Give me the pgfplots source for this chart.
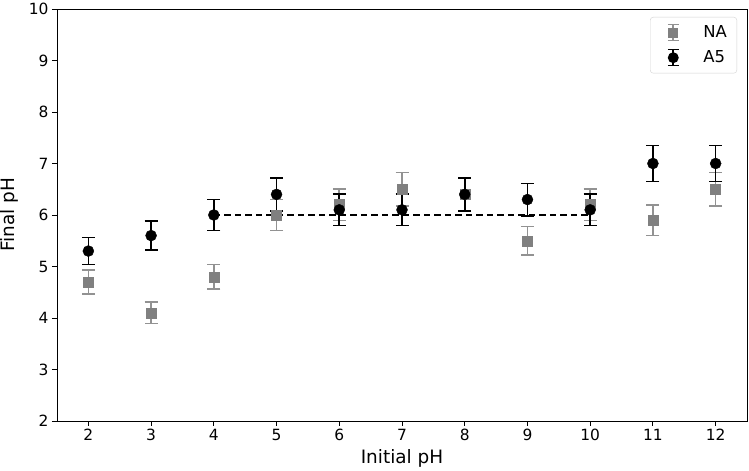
\documentclass[border=0pt]{standalone}
\usepackage{pgfplots}
\pgfplotsset{compat=1.18}
\usepackage{fontspec}
\setmainfont{DejaVu Sans}
\definecolor{nagray}{HTML}{808080}
\definecolor{nabar}{HTML}{929292}
\begin{document}
\begin{tikzpicture}
\begin{axis}[
  scale only axis,
  width=690bp, height=412bp,
  xmin=1.5, xmax=12.5,
  ymin=2, ymax=10,
  xtick={2,3,...,12},
  ytick={2,3,...,10},
  xtick pos=bottom, ytick pos=left,
  tick align=outside,
  major tick length=5bp,
  tick style={black, line width=0.9pt},
  axis line style={black, line width=0.9pt},
  /pgf/number format/assume math mode=true,
  ticklabel style={font=\fontsize{15.5}{18}\selectfont},
  label style={font=\fontsize{18.5}{21}\selectfont},
  xlabel={Initial pH},
  ylabel={Final pH},
  xlabel style={at={(axis description cs:0.5,-0.0898)}, anchor=center},
  ylabel style={at={(axis description cs:-0.0696,0.5)}, anchor=center},
  legend style={at={(1,1)}, anchor=north east, xshift=-10bp, yshift=-8bp,
    font=\fontsize{16.5}{19}\selectfont, draw=gray!35, rounded corners=3pt,
    inner xsep=10bp, inner ysep=3bp, row sep=0pt, column sep=0pt,
    nodes={inner sep=0pt, anchor=west, draw=none, sharp corners}},
  legend cell align=left,
]
\addplot[black, dash pattern=on 6.5bp off 4bp, line width=1.6bp, forget plot] coordinates {(4,6) (10,6)};
\addplot[only marks, mark=square*, mark size=5bp, color=nagray,
  error bars/.cd, y dir=both, y explicit,
  error bar style={nabar, line width=1.6bp}, error mark options={rotate=90, mark size=6.5bp, nabar, line width=1.6bp},
  /pgfplots/legend image code/.code={
  \path[draw=none, sharp corners] (0,-12.5bp) rectangle (43bp,12.5bp);
  \draw[nabar, line width=1.6bp, sharp corners, solid] (13bp,-8bp) -- (13bp,8bp)
     (7.5bp,-8bp) -- (18.5bp,-8bp) (7.5bp,8bp) -- (18.5bp,8bp);
  \fill[nagray, draw=none, sharp corners] (8bp,-5bp) rectangle (18bp,5bp);}]
  table[x=x, y=y, y error=e] {
x y e
2 4.7 0.235
3 4.1 0.205
4 4.8 0.24
5 6.0 0.30
6 6.2 0.31
7 6.5 0.325
8 6.4 0.32
9 5.5 0.275
10 6.2 0.31
11 5.9 0.295
12 6.5 0.325
};
\addlegendentry{NA}
\addplot[only marks, mark=*, mark size=5.5bp, color=black,
  error bars/.cd, y dir=both, y explicit,
  error bar style={black, line width=1.6bp}, error mark options={rotate=90, mark size=6.5bp, black, line width=1.6bp},
  /pgfplots/legend image code/.code={
  \path[draw=none, sharp corners] (0,-12.5bp) rectangle (43bp,12.5bp);
  \draw[black, line width=1.6bp, sharp corners, solid] (13bp,-8bp) -- (13bp,8bp)
     (7.5bp,-8bp) -- (18.5bp,-8bp) (7.5bp,8bp) -- (18.5bp,8bp);
  \fill[black, draw=none] (13bp,0) circle (5.5bp);}]
  table[x=x, y=y, y error=e] {
x y e
2 5.3 0.265
3 5.6 0.28
4 6.0 0.30
5 6.4 0.32
6 6.1 0.305
7 6.1 0.305
8 6.4 0.32
9 6.3 0.315
10 6.1 0.305
11 7.0 0.35
12 7.0 0.35
};
\addlegendentry{A5}
\end{axis}
\pgfresetboundingbox
\path[use as bounding box] ([shift={(-57bp,-50bp)}]current axis.south west) rectangle ([shift={(2bp,9bp)}]current axis.north east);
\end{tikzpicture}
\end{document}
